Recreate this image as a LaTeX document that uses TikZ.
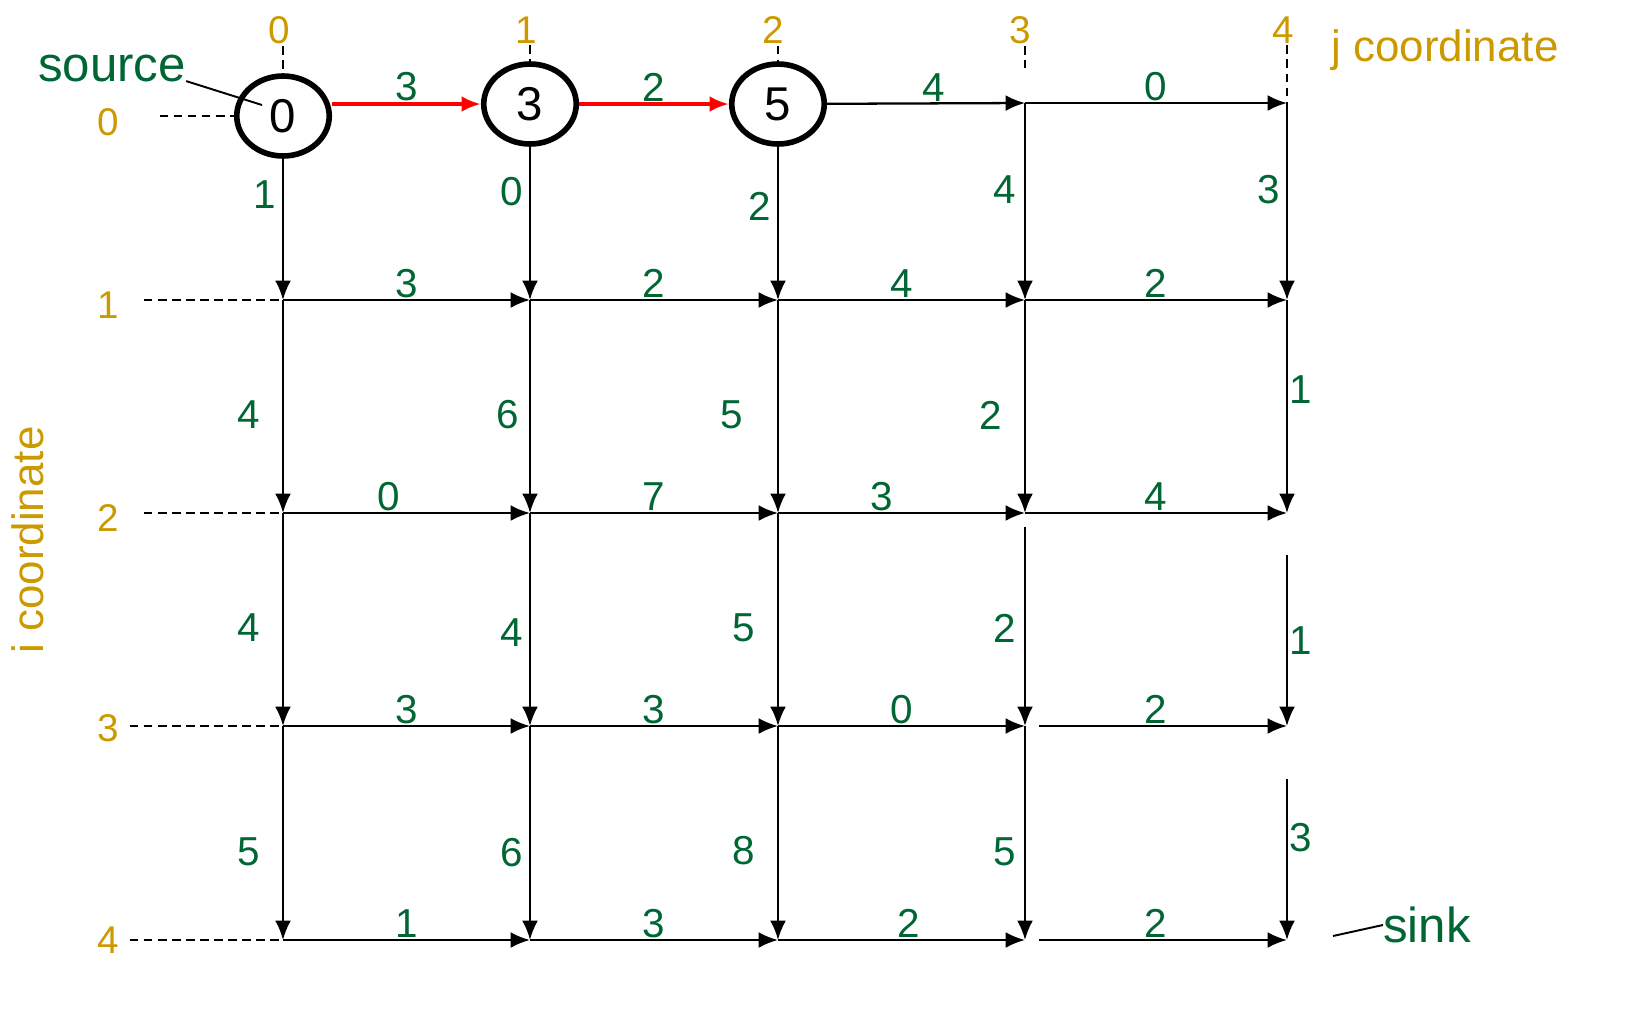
\documentclass[tikz,border=0pt]{standalone}
\usepackage{fontspec}
\setmainfont{Liberation Sans}
\usepackage{tikz}
\usetikzlibrary{arrows.meta,shapes.geometric}
\definecolor{wgreen}{RGB}{0,102,51}
\definecolor{cgold}{RGB}{204,153,0}
\tikzset {>={Latex[length=11pt,width=9pt]}}
\newcommand*{\fsz}[1]{\fontsize{#1}{#1}\selectfont}

\begin{document}
\begin{tikzpicture}[x=0.02cm,y=-0.02cm,
  edge/.style={-{Latex[length=11pt,width=9pt]},line width=1.3pt},
  best/.style={-{Latex[length=11pt,width=9pt]},line width=2.4pt,red},
  guide/.style={line width=1.1pt,dash pattern=on 5pt off 3pt},
  wt/.style={text=wgreen,font=\fsz{23pt},inner sep=0.5pt},
  ax/.style={text=cgold,font=\fsz{22pt},inner sep=1pt},
  visited/.style={draw,ellipse,line width=3.2pt,minimum width=1.85cm,minimum height=1.6cm,inner sep=0pt,font=\fsz{27pt}}]
\useasboundingbox (0,0) rectangle (1634,1012);

\node[visited] (c0) at (283,116) {0};
\node[visited] (c1) at (530,104) {3};
\node[visited] (c2) at (778,104) {5};
\coordinate (n03) at (1025,103);
\coordinate (n04) at (1287,103);

\coordinate (n10) at (283,300);
\coordinate (n11) at (530,300);
\coordinate (n12) at (778,300);
\coordinate (n13) at (1025,300);
\coordinate (n14) at (1287,300);

\coordinate (n20) at (283,513);
\coordinate (n21) at (530,513);
\coordinate (n22) at (778,513);
\coordinate (n23) at (1025,513);
\coordinate (n24) at (1287,513);

\coordinate (n30) at (283,726);
\coordinate (n31) at (530,726);
\coordinate (n32) at (778,726);
\coordinate (n33) at (1025,726);
\coordinate (n34) at (1287,726);

\coordinate (n40) at (283,940);
\coordinate (n41) at (530,940);
\coordinate (n42) at (778,940);
\coordinate (n43) at (1025,940);
\coordinate (n44) at (1287,940);

% coordinate labels
\node[ax] (j0) at (279,30) {0};
\node[ax] (j1) at (526,30) {1};
\node[ax] (j2) at (773,30) {2};
\node[ax] (j3) at (1020,30) {3};
\node[ax] (j4) at (1283,30) {4};
\node[ax] (i0) at (108,122) {0};
\node[ax] (i1) at (108,305) {1};
\node[ax] (i2) at (108,518) {2};
\node[ax] (i3) at (108,728) {3};
\node[ax] (i4) at (108,940) {4};
\node[text=cgold,font=\fsz{25pt},inner sep=0pt] (jax) at (1445,50) {j coordinate};
\node[text=cgold,font=\fsz{25pt},inner sep=0pt,rotate=90] (iax) at (28,540) {i coordinate};

\draw[guide] (c0 |- j0.south) -- (c0);
\draw[guide] (c1 |- j1.south) -- (c1);
\draw[guide] (c2 |- j2.south) -- (c2);
\draw[guide,shorten >=20pt] (n03 |- j3.south) -- (n03);
\draw[guide] (n04 |- j4.south) -- (n04);
\draw[guide,shorten <=22pt] (i0.east |- c0) -- (c0);
\draw[guide,shorten <=13pt] (i1.east |- n10) -- (n10);
\draw[guide,shorten <=13pt] (i2.east |- n20) -- (n20);
\draw[guide,shorten <=5pt] (i3.east |- n30) -- (n30);
\draw[guide,shorten <=5pt] (i4.east |- n40) -- (n40);

% source and sink
\node[text=wgreen,font=\fsz{28pt},inner sep=0pt] (src) at (112,68) {source};
\coordinate (srcend) at (262,105);
\draw[line width=1.1pt] (src.-10) -- (srcend);
\node[text=wgreen,font=\fsz{28pt},inner sep=0pt] (snk) at (1427,925) {sink};
\coordinate (snkend) at (1333,936);
\draw[line width=1.1pt] (snk.west) -- (snkend);

% row 0
\draw[best] (c0.east |- c1) -- node[wt,above=0pt] {3} (c1);
\draw[best] (c1) -- node[wt,above=0pt] {2} (c2);
\draw[edge] (c2) -- node[wt,above=0pt,pos=0.54] {4} (n03);
\draw[edge] (n03) -- node[wt,above=0pt] {0} (n04);

\draw[edge] (c0) -- node[wt,left=3pt,pos=0.25] {1} (n10);
\draw[edge] (c1) -- node[wt,left=3pt,pos=0.29] {0} (n11);
\draw[edge] (c2) -- node[wt,left=3pt,pos=0.39] {2} (n12);
\draw[edge] (n03) -- node[wt,left=4pt,pos=0.44] {4} (n13);
\draw[edge] (n04) -- node[wt,left=3pt,pos=0.44] {3} (n14);

% row 1
\draw[edge] (n10) -- node[wt,above=0pt] {3} (n11);
\draw[edge] (n11) -- node[wt,above=0pt] {2} (n12);
\draw[edge] (n12) -- node[wt,above=0pt] {4} (n13);
\draw[edge] (n13) -- node[wt,above=0pt] {2} (n14);

\draw[edge] (n10) -- node[wt,left=12pt,pos=0.54] {4} (n20);
\draw[edge] (n11) -- node[wt,left=5pt,pos=0.54] {6} (n21);
\draw[edge] (n12) -- node[wt,left=19pt,pos=0.54] {5} (n22);
\draw[edge] (n13) -- node[wt,left=12pt,pos=0.54] {2} (n23);
\draw[edge] (n14) -- node[wt,right=0pt,pos=0.42] {1} (n24);

% row 2
\draw[edge] (n20) -- node[wt,above=0pt,pos=0.43] {0} (n21);
\draw[edge] (n21) -- node[wt,above=0pt] {7} (n22);
\draw[edge] (n22) -- node[wt,above=0pt,pos=0.42] {3} (n23);
\draw[edge] (n23) -- node[wt,above=0pt] {4} (n24);

\draw[edge] (n20) -- node[wt,left=12pt,pos=0.54] {4} (n30);
\draw[edge] (n21) -- node[wt,left=3pt,pos=0.56] {4} (n31);
\draw[edge] (n22) -- node[wt,left=12pt,pos=0.54] {5} (n32);
\draw[edge,shorten <=8pt] (n23) -- node[wt,left=4pt,pos=0.54] {2} (n33);
\draw[edge,shorten <=24pt] (n24) -- node[wt,right=0pt,pos=0.6] {1} (n34);

% row 3
\draw[edge] (n30) -- node[wt,above=0pt] {3} (n31);
\draw[edge] (n31) -- node[wt,above=0pt] {3} (n32);
\draw[edge] (n32) -- node[wt,above=0pt] {0} (n33);
\draw[edge,shorten <=8pt] (n33) -- node[wt,above=0pt] {2} (n34);

\draw[edge] (n30) -- node[wt,left=12pt,pos=0.59] {5} (n40);
\draw[edge] (n31) -- node[wt,left=3pt,pos=0.59] {6} (n41);
\draw[edge] (n32) -- node[wt,left=12pt,pos=0.58] {8} (n42);
\draw[edge] (n33) -- node[wt,left=4pt,pos=0.59] {5} (n43);
\draw[edge,shorten <=30pt] (n34) -- node[wt,right=0pt,pos=0.52] {3} (n44);

% row 4
\draw[edge] (n40) -- node[wt,above=0pt] {1} (n41);
\draw[edge] (n41) -- node[wt,above=0pt] {3} (n42);
\draw[edge] (n42) -- node[wt,above=0pt,pos=0.53] {2} (n43);
\draw[edge,shorten <=8pt] (n43) -- node[wt,above=0pt] {2} (n44);
\end{tikzpicture}
\end{document}
